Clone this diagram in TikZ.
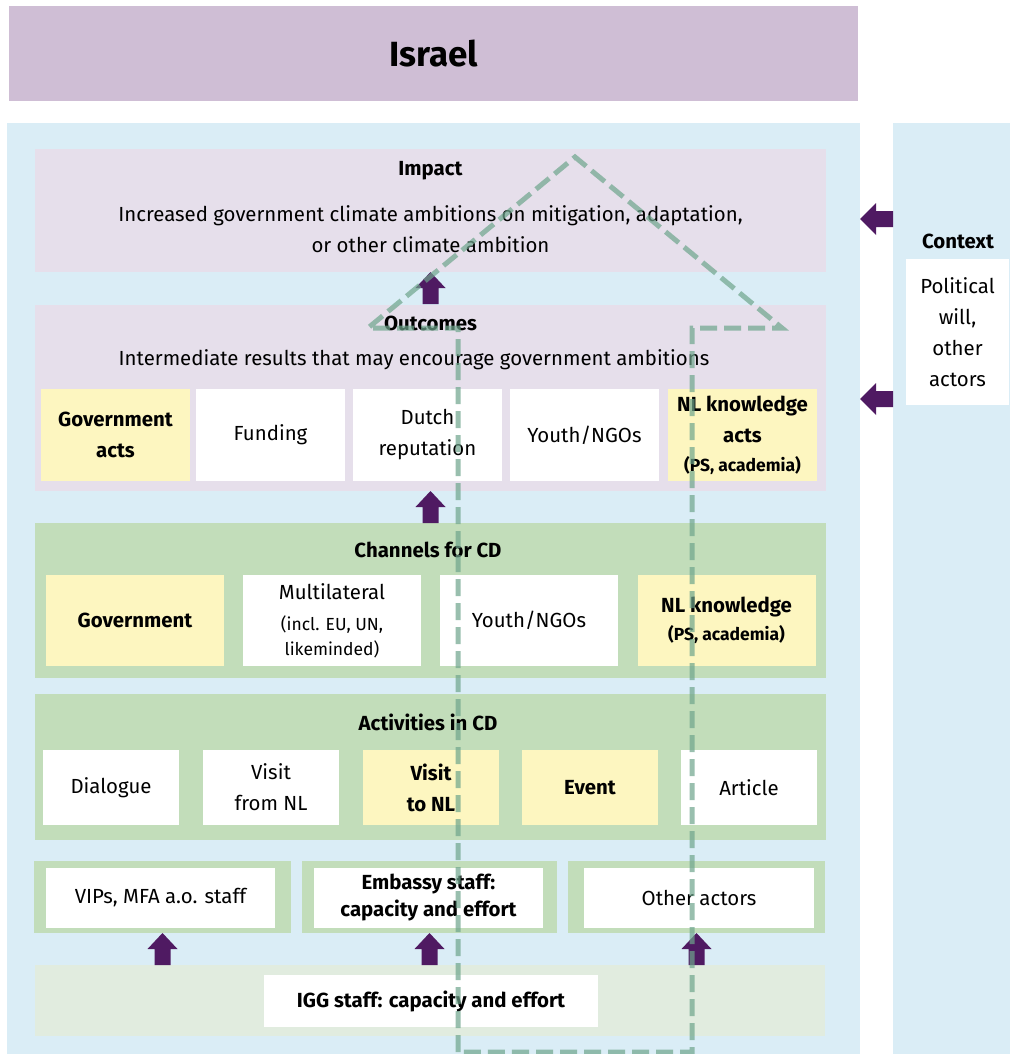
\documentclass[tikz,border=0pt]{standalone}
\usepackage{fontspec}
\setmainfont{Fira Sans}

\definecolor{israelbg}{RGB}{207,190,213}
\definecolor{panelblue}{RGB}{218,237,246}
\definecolor{lavender}{RGB}{230,223,235}
\definecolor{cdgreen}{RGB}{194,221,186}
\definecolor{palegreen}{RGB}{225,236,223}
\definecolor{ylw}{RGB}{253,246,192}
\definecolor{arrowpurple}{RGB}{79,26,98}
\definecolor{dashgreen}{RGB}{110,165,140}

\newcommand{\bodyfont}{\fontsize{20.4}{31}\selectfont}
\newcommand{\smallfont}{\fontsize{17.5}{26}\selectfont}

\tikzset{
  panel/.style={inner sep=0pt, outer sep=0pt},
  box/.style={fill=white, inner sep=0pt, outer sep=0pt, align=center, font=\bodyfont},
  ybox/.style={box, fill=ylw, font=\bodyfont\bfseries},
  head/.style={anchor=base, inner sep=0pt, font=\bodyfont\bfseries},
  outbox/.style={minimum width=149, minimum height=92},
  chbox/.style={minimum width=178, minimum height=91},
  actbox/.style={minimum width=136, minimum height=75},
  frame/.style={panel, fill=cdgreen, minimum height=72},
  dashpath/.style={draw=dashgreen, opacity=0.7, line width=5pt, dash pattern=on 17pt off 7pt},
  uparr/.pic={\fill[arrowpurple] (0,0) -- (15,16) -- (8,16) -- (8,32) -- (-8,32) -- (-8,16) -- (-15,16) -- cycle;},
  leftarr/.pic={\fill[arrowpurple] (0,0) -- (16,-16) -- (16,-8) -- (33,-8) -- (33,8) -- (16,8) -- (16,16) -- cycle;}
}

\begin{document}
\begin{tikzpicture}[x=1pt,y=-1pt]
  \useasboundingbox (0,0) rectangle (1010,1054);
  % title bar
  \node[panel, fill=israelbg, minimum width=849, minimum height=95, font=\fontsize{35}{40}\selectfont\bfseries] (israel) at (433.5,53.5) {Israel};
  % background panels
  \node[panel, fill=panelblue, minimum width=853, minimum height=931] (main) at (433.5,588.5) {};
  \node[panel, fill=panelblue, minimum width=117, minimum height=931] (context) at (951.5,588.5) {};
  \node[head] (contexthead) at (958,248) {Context};
  \node[box, minimum width=103, minimum height=146] (will) at (957.5,332) {Political\\will,\\other\\actors};

  % impact
  \node[panel, fill=lavender, minimum width=791, minimum height=123] (impact) at (430.5,210.5) {};
  \node[head] (impacthead) at (430.5,175) {Impact};
  \node[box, fill=none] (impacttext) at (430.5,229.5) {Increased government climate ambitions on mitigation, adaptation,\\or other climate ambition};

  % outcomes
  \node[panel, fill=lavender, minimum width=791, minimum height=186] (outcomes) at (430.5,398) {};
  \node[head] (outhead) at (430.5,330) {Outcomes};
  \node[head, font=\bodyfont] (outtext) at (414,365) {Intermediate results that may encourage government ambitions};
  \node[ybox, outbox] (govacts) at (115.5,435) {Government\\acts};
  \node[box, outbox] (funding) at (270.5,435) {Funding};
  \node[box, outbox] (reputation) at (427.5,435) {Dutch\\reputation};
  \node[box, outbox] (youthout) at (584.5,435) {Youth/NGOs};
  \node[ybox, outbox] (nlacts) at (742.5,435) {NL knowledge\\acts\\[-2pt]{\smallfont (PS, academia)}};

  % channels
  \node[panel, fill=cdgreen, minimum width=791, minimum height=155] (channels) at (430.5,600.5) {};
  \node[head] (chhead) at (428,557) {Channels for CD};
  \node[ybox, chbox] (gov) at (135,620.5) {Government};
  \node[box, chbox] (multi) at (332,620.5) {Multilateral\\{\smallfont (incl. EU, UN,}\\[-6pt]{\smallfont likeminded)}};
  \node[box, chbox] (youthch) at (529,620.5) {Youth/NGOs};
  \node[ybox, chbox] (nlknow) at (726.5,620.5) {NL knowledge\\[-3pt]{\smallfont (PS, academia)}};

  % activities
  \node[panel, fill=cdgreen, minimum width=791, minimum height=146] (activities) at (430.5,767) {};
  \node[head] (acthead) at (428,730) {Activities in CD};
  \node[box, actbox] (dialogue) at (111,787.5) {Dialogue};
  \node[box, actbox] (visitfrom) at (271,787.5) {Visit\\from NL};
  \node[ybox, actbox] (visitto) at (431,787.5) {Visit\\to NL};
  \node[ybox, actbox] (event) at (590,787.5) {Event};
  \node[box, actbox] (article) at (749,787.5) {Article};

  % actors
  \node[frame, minimum width=257] (vipframe) at (162.5,897) {};
  \node[frame, minimum width=255] (embframe) at (429.5,897) {};
  \node[frame, minimum width=257] (othframe) at (696.5,897) {};
  \node[box, minimum width=229, minimum height=60] (vips) at (160.5,898) {VIPs, MFA a.o. staff};
  \node[box, minimum width=229, minimum height=60, font=\bodyfont\bfseries] (embassy) at (428.5,898) {Embassy staff:\\[-4pt]capacity and effort};
  \node[box, minimum width=230, minimum height=60] (others) at (699,898) {Other actors};

  % IGG staff
  \node[panel, fill=palegreen, minimum width=790, minimum height=71] (iggpanel) at (430,1000.5) {};
  \node[box, minimum width=334, minimum height=52, font=\bodyfont\bfseries] (igg) at (431,1001) {IGG staff: capacity and effort};

  % block arrows
  \pic at (impact.south) {uparr};
  \pic at (outcomes.south) {uparr};
  \pic at (vipframe.south) {uparr};
  \pic at (embframe.south) {uparr};
  \pic at (othframe.south) {uparr};
  \pic at (860,219) {leftarr};
  \pic at (860,399) {leftarr};

  % dashed house outline
  \draw[dashpath] (458,1052) -- (458,328) -- (368,328) -- (575,157) -- (782,328) -- (692,328) -- (692,1052) -- cycle;
\end{tikzpicture}
\end{document}
